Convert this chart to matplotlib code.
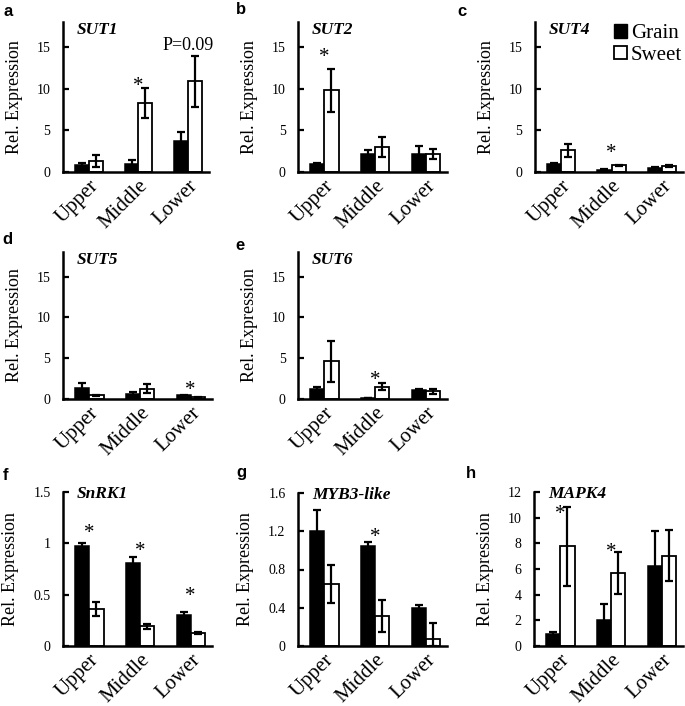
import matplotlib
matplotlib.use("Agg")
import matplotlib.pyplot as plt
from matplotlib.patches import Patch

plt.rcParams["font.family"] = ["Liberation Serif", "DejaVu Serif"]

groups = ["Upper", "Middle", "Lower"]

# SUT1
sut1_grain = [0.9, 1.0, 3.75]
sut1_grain_err = [0.15, 0.4, 1.05]
sut1_sweet = [1.3, 8.3, 10.9]
sut1_sweet_err = [0.7, 1.8, 3.05]
# SUT2
sut2_grain = [0.95, 2.2, 2.2]
sut2_grain_err = [0.1, 0.5, 0.9]
sut2_sweet = [9.8, 3.0, 2.2]
sut2_sweet_err = [2.55, 1.25, 0.6]
# SUT4
sut4_grain = [0.95, 0.3, 0.5]
sut4_grain_err = [0.1, 0.05, 0.05]
sut4_sweet = [2.6, 0.8, 0.75]
sut4_sweet_err = [0.8, 0.1, 0.1]
# SUT5
sut5_grain = [1.4, 0.6, 0.45]
sut5_grain_err = [0.6, 0.25, 0.05]
sut5_sweet = [0.45, 1.25, 0.2]
sut5_sweet_err = [0.05, 0.55, 0.03]
# SUT6
sut6_grain = [1.2, 0.1, 1.1]
sut6_grain_err = [0.25, 0.02, 0.1]
sut6_sweet = [4.6, 1.5, 0.95]
sut6_sweet_err = [2.5, 0.45, 0.3]
# SnRK1
snrk1_grain = [0.97, 0.81, 0.30]
snrk1_grain_err = [0.03, 0.06, 0.03]
snrk1_sweet = [0.36, 0.19, 0.13]
snrk1_sweet_err = [0.07, 0.02, 0.01]
# MYB3-like
myb3_grain = [1.2, 1.05, 0.40]
myb3_grain_err = [0.22, 0.04, 0.03]
myb3_sweet = [0.645, 0.315, 0.077]
myb3_sweet_err = [0.2, 0.17, 0.16]
# MAPK4
mapk4_grain = [0.9, 2.0, 6.24]
mapk4_grain_err = [0.2, 1.3, 2.76]
mapk4_sweet = [7.76, 5.7, 7.03]
mapk4_sweet_err = [3.05, 1.65, 2.0]

# significance marks: (group index, y value, text)
sut1_marks = [(1, 11.0, "*"), (2, 15.2, "P=0.09")]
sut2_marks = [(0, 14.5, "*")]
sut4_marks = [(1, 3.0, "*")]
sut5_marks = [(2, 1.9, "*")]
sut6_marks = [(1, 3.1, "*")]
snrk1_marks = [(0, 1.16, "*"), (1, 0.98, "*"), (2, 0.55, "*")]
myb3_marks = [(1, 1.2, "*")]
mapk4_marks = [(0, 10.8, "*"), (1, 7.8, "*")]

W, H = 685, 706
panels = [
    # letter, gene, grain, grain_err, sweet, sweet_err, marks, ymax, yticks, tick labels,
    # axes box px (left, right, top, bottom), letter pos px (x, y)
    ("a", "SUT1", sut1_grain, sut1_grain_err, sut1_sweet, sut1_sweet_err, sut1_marks,
     18, [0, 5, 10, 15], ["0", "5", "10", "15"], (63, 209, 22, 172), (3, 11)),
    ("b", "SUT2", sut2_grain, sut2_grain_err, sut2_sweet, sut2_sweet_err, sut2_marks,
     18, [0, 5, 10, 15], ["0", "5", "10", "15"], (298, 447, 22, 172), (236, 10)),
    ("c", "SUT4", sut4_grain, sut4_grain_err, sut4_sweet, sut4_sweet_err, sut4_marks,
     18, [0, 5, 10, 15], ["0", "5", "10", "15"], (535, 683, 22, 172), (457, 11)),
    ("d", "SUT5", sut5_grain, sut5_grain_err, sut5_sweet, sut5_sweet_err, sut5_marks,
     18, [0, 5, 10, 15], ["0", "5", "10", "15"], (63, 212, 252, 399), (2, 240)),
    ("e", "SUT6", sut6_grain, sut6_grain_err, sut6_sweet, sut6_sweet_err, sut6_marks,
     18, [0, 5, 10, 15], ["0", "5", "10", "15"], (298, 447, 252, 399), (235, 245)),
    ("f", "SnRK1", snrk1_grain, snrk1_grain_err, snrk1_sweet, snrk1_sweet_err, snrk1_marks,
     1.5, [0, 0.5, 1, 1.5], ["0", "0.5", "1", "1.5"], (63, 212, 492, 646), (3, 476)),
    ("g", "MYB3-like", myb3_grain, myb3_grain_err, myb3_sweet, myb3_sweet_err, myb3_marks,
     1.6, [0, 0.4, 0.8, 1.2, 1.6], ["0", "0.4", "0.8", "1.2", "1.6"], (298, 447, 493, 646),
     (236, 472)),
    ("h", "MAPK4", mapk4_grain, mapk4_grain_err, mapk4_sweet, mapk4_sweet_err, mapk4_marks,
     12, [0, 2, 4, 6, 8, 10, 12], ["0", "2", "4", "6", "8", "10", "12"], (534, 683, 492, 646),
     (466, 474)),
]

fig = plt.figure(figsize=(W / 100, H / 100), dpi=100)
bw = 0.28
err_kw = dict(ecolor="black", elinewidth=1.6, capsize=3, capthick=1.6)

for (letter, gene, g, ge, s, se, marks, ymax, yt, ytl,
     (l, r, t, b), (lx, ly)) in panels:
    ax = fig.add_axes([l / W, (H - b) / H, (r - l) / W, (b - t) / H])
    x = list(range(len(groups)))
    ax.bar([i - bw / 2 for i in x], g, bw, color="black", edgecolor="black",
           linewidth=1.1, yerr=ge, error_kw=err_kw, zorder=2)
    ax.bar([i + bw / 2 for i in x], s, bw, color="white", edgecolor="black",
           linewidth=1.3, yerr=[[min(v, e) for v, e in zip(s, se)], se],
           error_kw=err_kw, zorder=2)
    ax.set_xlim(-0.52, 2.42)
    ax.set_ylim(0, ymax)
    ax.set_yticks(yt)
    ax.set_yticklabels(ytl, fontsize=10)
    ax.set_xticks(x)
    ax.set_xticklabels(groups, fontsize=15, rotation=45, ha="right", rotation_mode="anchor")
    ax.tick_params(axis="x", length=0, pad=3)
    ax.tick_params(axis="y", direction="in", length=4, width=1.6, pad=9)
    for sp in ("top", "right"):
        ax.spines[sp].set_visible(False)
    for sp in ("left", "bottom"):
        ax.spines[sp].set_linewidth(1.8)
    ax.set_ylabel("Rel. Expression", fontsize=13)
    off = 40 if ymax > 2 else 44
    ax.yaxis.set_label_coords(-off / (r - l), 0.5)
    gy = 1.0 if ymax > 2 or letter != "h" else 1.0
    gy = 1.0 + (6 / (b - t) if t > 450 else 0)
    ax.text(0.095, gy, gene, transform=ax.transAxes, fontsize=12.5, fontweight="bold",
            fontstyle="italic", va="top", ha="left")
    for gi, yv, txt in marks:
        if txt == "*":
            ax.annotate(txt, (gi, yv), xytext=(0, -8), textcoords="offset points",
                        ha="center", va="baseline", fontsize=15)
        else:
            ax.text(gi, yv, txt, ha="center", va="center", fontsize=13)
    fig.text(lx / W, (H - ly) / H, letter, family=["Liberation Sans", "DejaVu Sans"],
             fontweight="bold", fontsize=12, va="center", ha="left")
    if letter == "c":
        ax.legend(handles=[Patch(facecolor="black", edgecolor="black"),
                           Patch(facecolor="white", edgecolor="black", linewidth=1.3)],
                  labels=["Grain", "Sweet"], frameon=False, loc="upper right",
                  bbox_to_anchor=(0.995, 0.985), fontsize=15, handlelength=0.6,
                  handleheight=0.6, handletextpad=0.2, labelspacing=0.12, borderaxespad=0,
                  borderpad=0)

fig.savefig("out.png", dpi=100)
